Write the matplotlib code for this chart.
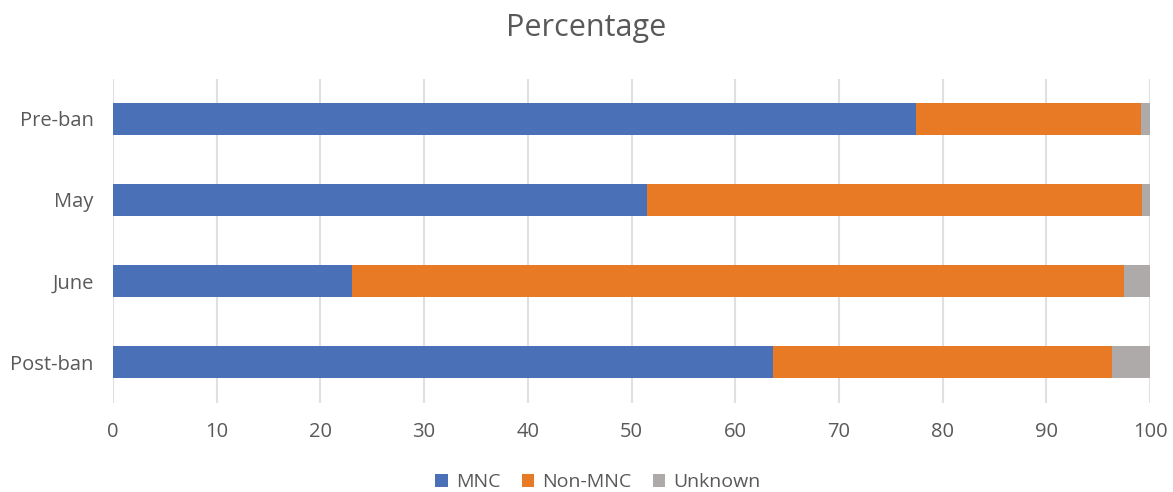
import numpy as np
import matplotlib.pyplot as plt

categories = ['Pre-ban', 'May', 'June', 'Post-ban']
mnc = [77.4, 51.5, 23.0, 63.6]
non_mnc = [21.7, 47.7, 74.5, 32.7]
unknown = [0.9, 0.8, 2.5, 3.7]

colors = ['#4a70b8', '#e87a25', '#aeaaaa']
txt = '#595959'
plt.rcParams['font.family'] = ['Open Sans', 'DejaVu Sans']

fig = plt.figure(figsize=(11.73, 4.92), dpi=100)
ax = fig.add_axes([113 / 1173, 1 - 402.5 / 492, 1037 / 1173, 324 / 492])

y = np.arange(len(categories))
h = 0.4
ax.barh(y, mnc, height=h, color=colors[0], label='MNC')
ax.barh(y, non_mnc, height=h, left=mnc, color=colors[1], label='Non-MNC')
left2 = np.array(mnc) + np.array(non_mnc)
ax.barh(y, unknown, height=h, left=left2, color=colors[2], label='Unknown')

ax.set_xlim(0, 100)
ax.set_ylim(len(categories) - 0.5, -0.5)
ax.set_yticks(y)
ax.set_yticklabels(categories)
ax.set_xticks(np.arange(0, 101, 10))
ax.tick_params(axis='both', length=0, labelsize=14.5, colors=txt)
ax.tick_params(axis='x', pad=14)
ax.tick_params(axis='y', pad=14)
ax.xaxis.grid(True, color='#e0e0e0', linewidth=1.5)
ax.set_axisbelow(True)
for s in ax.spines.values():
    s.set_visible(False)

fig.text(0.5, 1 - 28 / 492, 'Percentage', ha='center', va='center', fontsize=22, color=txt)
fig.legend(loc='center', bbox_to_anchor=(598 / 1173, 1 - 482 / 492), ncol=3, frameon=False,
           fontsize=14, labelcolor=txt, handlelength=0.65, handleheight=0.65,
           handletextpad=0.4, columnspacing=1.1)

fig.savefig('out.png', dpi=100)
